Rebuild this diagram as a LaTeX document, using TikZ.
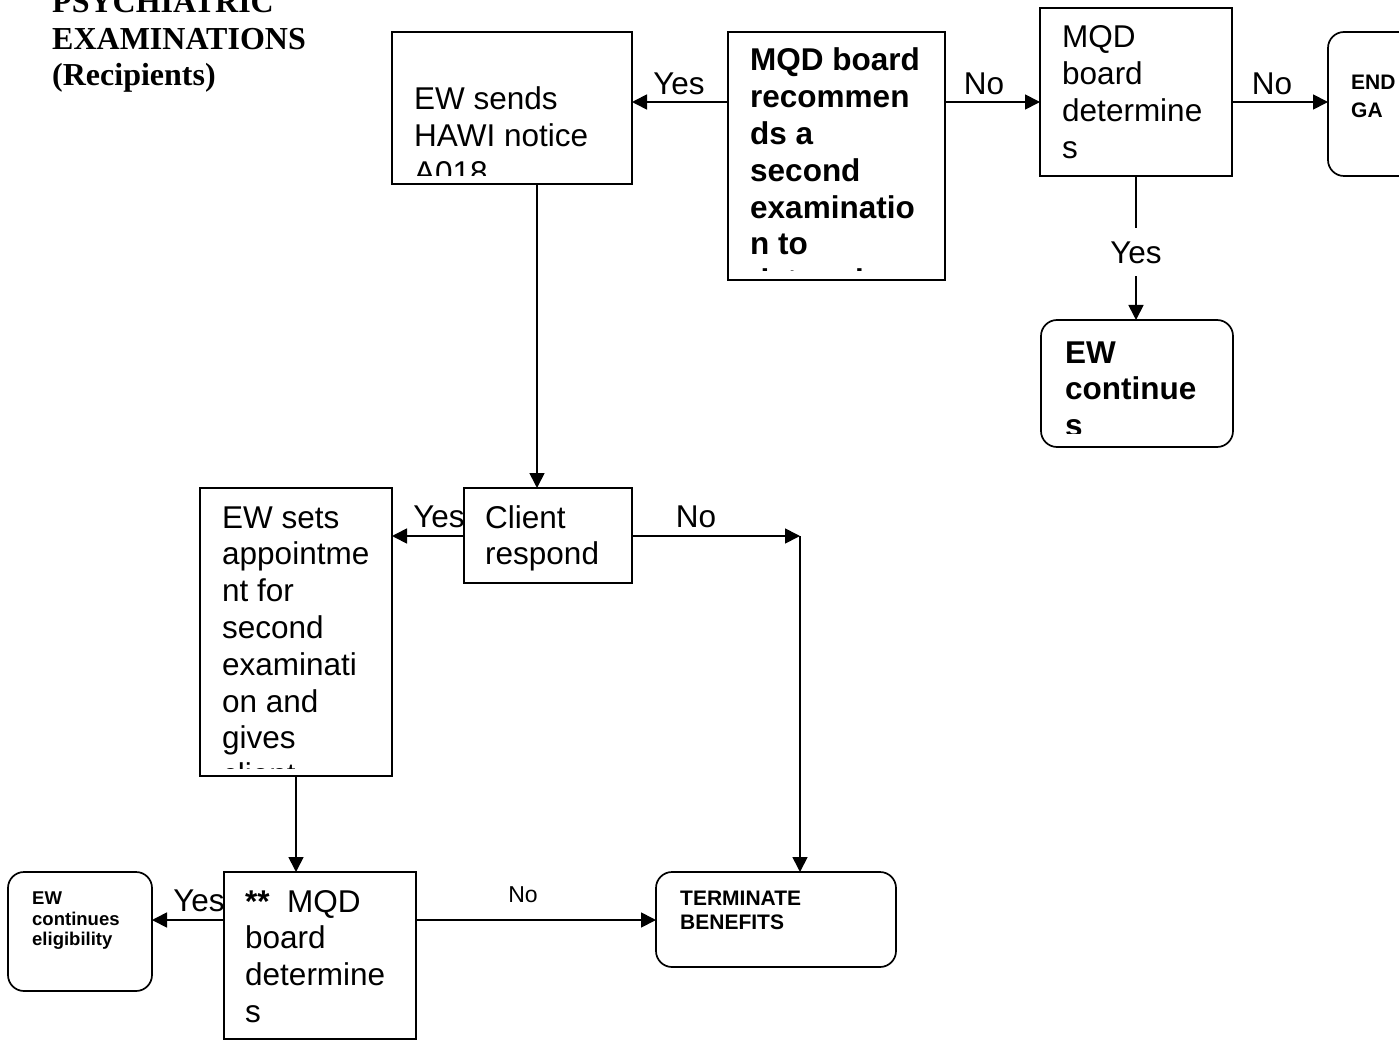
\documentclass[tikz,border=0pt]{standalone}
\usepackage{fontspec}
\setmainfont{Liberation Sans}
\newfontfamily\titlefont{Liberation Serif}
\usetikzlibrary{arrows.meta,calc}
\newcommand{\bigtxt}{\fontsize{31.5}{36.8}\selectfont}
\newcommand{\midtxt}{\fontsize{21}{24}\selectfont}
\newcommand{\smtxt}{\fontsize{18.5}{20.5}\selectfont}
\newcommand{\boxlines}[1]{\parbox[t]{400pt}{#1}}
\begin{document}
\begin{tikzpicture}[x=1pt,y=-1pt,
  bx/.style={draw, line width=1.7pt, inner sep=0pt, outer sep=0pt, anchor=north west},
  rbx/.style={bx, rounded corners=16pt},
  con/.style={line width=1.7pt},
  arr/.style={con, -{Triangle[length=15pt,width=15pt]}},
  txt/.style={anchor=base west, inner sep=0pt},
  lab/.style={inner sep=0pt, font=\bigtxt}]
\fill[white] (0,0) rectangle (1399,1040);
\useasboundingbox (0,0) rectangle (1399,1040);
\clip (0,0) rectangle (1399,1040);

% title
\node[txt] (title) at (52,13) {\boxlines{\titlefont\bfseries\fontsize{32}{36.5}\selectfont PSYCHIATRIC\\EXAMINATIONS\\(Recipients)}};

% boxes
\node[bx, minimum width=240pt, minimum height=152pt] (A) at (392,32) {};
\node[bx, minimum width=217pt, minimum height=248pt] (B) at (728,32) {};
\node[bx, minimum width=192pt, minimum height=168pt] (C) at (1040,8) {};
\node[rbx, minimum width=130pt, minimum height=144pt] (D) at (1328,32) {};
\node[rbx, minimum width=192pt, minimum height=127pt] (E) at (1041,320) {};
\node[bx, minimum width=168pt, minimum height=95pt] (F) at (464,488) {};
\node[bx, minimum width=192pt, minimum height=288pt] (G) at (200,488) {};
\node[bx, minimum width=192pt, minimum height=167pt] (H) at (224,872) {};
\node[rbx, minimum width=144pt, minimum height=119pt] (I) at (8,872) {};
\node[rbx, minimum width=240pt, minimum height=95pt] (J) at (656,872) {};

% texts
\begin{scope}
\clip (392,32) rectangle (632,176);
\node[txt] (At) at (414,110) {\boxlines{\bigtxt EW sends\\HAWI notice\\A018}};
\end{scope}
\begin{scope}
\clip (728,32) rectangle (945,271);
\node[txt] (Bt) at (750,71) {\boxlines{\bigtxt\bfseries MQD board\\recommen\\ds a\\second\\examinatio\\n to\\determine}};
\end{scope}
\node[txt] (Ct) at (1062,48) {\boxlines{\bigtxt MQD\\board\\determine\\s}};
\node[txt] (Dt) at (1351,89.5) {\boxlines{\fontsize{21}{28}\selectfont\bfseries END\\GA}};
\begin{scope}
\clip (1041,320) rectangle (1233,433);
\node[txt] (Et) at (1065,363) {\boxlines{\bigtxt\bfseries EW\\continue\\s}};
\end{scope}
\node[txt] (Ft) at (485,528) {\boxlines{\bigtxt Client\\respond}};
\begin{scope}
\clip (200,488) rectangle (392,768);
\node[txt] (Gt) at (222,528) {\boxlines{\bigtxt EW sets\\appointme\\nt for\\second\\examinati\\on and\\gives\\client}};
\end{scope}
\node[txt] (Ht) at (245,912) {\boxlines{\bigtxt\textbf{**}\ \ MQD\\board\\determine\\s}};
\node[txt] (It) at (32,904.6) {\boxlines{\smtxt\bfseries EW\\continues\\eligibility}};
\node[txt] (Jt) at (680,905.5) {\boxlines{\midtxt\bfseries TERMINATE\\BENEFITS}};

% connectors
\draw[arr] (B.west |- 0,102) -- (A.east |- 0,102);
\node[lab] (l1) at (679,83.5) {Yes};
\draw[arr] (B.east |- 0,102) -- (C.west |- 0,102);
\node[lab] (l2) at (984,84) {No};
\draw[arr] (C.east |- 0,102) -- (D.west |- 0,102);
\node[lab] (l3) at (1272,84) {No};
\draw[arr] (C.south -| 1136,0) -- node[pos=0.53, lab, fill=white, inner ysep=13pt, inner xsep=2pt] (l4) {Yes} (E.north -| 1136,0);
\draw[arr] (A.south -| 537,0) -- (F.north -| 537,0);
\draw[arr] (F.west |- 0,536) -- (G.east |- 0,536);
\node[lab] (l5) at (439,517) {Yes};
\coordinate (n1) at (800,536);
\draw[arr] (F.east |- 0,536) -- (n1);
\node[lab] (l6) at (696,517) {No};
\draw[arr] (n1) -- (J.north -| n1);
\draw[arr] (G.south -| 296,0) -- (H.north -| 296,0);
\draw[arr] (H.west |- 0,920) -- (I.east |- 0,920);
\node[lab] (l7) at (199,901) {Yes};
\draw[arr] (H.east |- 0,920) -- (J.west |- 0,920);
\node[inner sep=0pt, font=\fontsize{23}{26}\selectfont] (l8) at (523,895) {No};
\end{tikzpicture}
\end{document}
